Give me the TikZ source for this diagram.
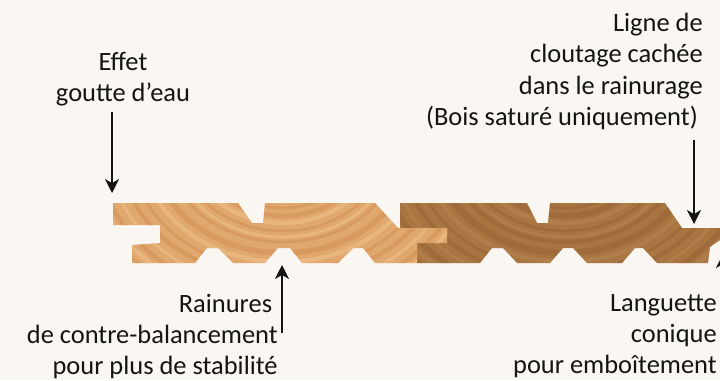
\documentclass[tikz,border=0pt]{standalone}
\usepackage{fontspec}
\setmainfont{Carlito}
\usetikzlibrary{arrows.meta}
\definecolor{paper}{HTML}{FAF6F2}
\definecolor{inkblack}{HTML}{141414}
\definecolor{pinebase}{HTML}{E0A86E}
\definecolor{pinelight}{HTML}{EFC08A}
\definecolor{pinedark}{HTML}{CB8448}
\definecolor{stainbase}{HTML}{A97642}
\definecolor{stainlight}{HTML}{B98B58}
\definecolor{staindark}{HTML}{8F5A2E}
\newcommand{\leftprofile}{(113,203) -- (238,203) -- (252,223) -- (263,223) -- (265,203) -- (375,203) -- (398,228) -- (447,228) -- (447,243) -- (417,243) -- (417,263) -- (375,263) -- (363,248) -- (353,248) -- (338,263) -- (302,263) -- (290,248) -- (278,248) -- (265,263) -- (233,263) -- (218,248) -- (207,248) -- (195,263) -- (132,263) -- (132,245) -- (160,243) -- (160,225) -- (113,225) -- cycle}
\newcommand{\rightprofile}{(400,203) -- (527,203) -- (537,223) -- (548,223) -- (550,203) -- (665,203) -- (682,228) -- (720,228) -- (720,240) -- (710,247) -- (708,263) -- (657,263) -- (643,248) -- (635,248) -- (622,263) -- (587,263) -- (573,248) -- (563,248) -- (550,263) -- (517,263) -- (503,248) -- (492,248) -- (480,263) -- (417,263) -- (400,240) -- cycle}

\begin{document}
\begin{tikzpicture}[
    x=0.025cm, y=-0.025cm,
    every node/.style={font=\fontsize{18.8}{22.2}\selectfont, text=inkblack, inner sep=0pt},
    callout/.style={-{Stealth[length=10pt, width=10pt, inset=3pt]}, inkblack, line width=0.8pt},
]
\path[use as bounding box, clip] (0,0) rectangle (720,380);
\fill[paper] (0,0) rectangle (720,380);

% Stained board
\fill[stainbase] \rightprofile;
\begin{scope}
    \clip \rightprofile;
    \foreach \r/\w in {46/3,58/2,66/4,81/2,92/3,103/5,121/2,130/3,148/4,162/2,176/3,188/2}
        \draw[staindark, line width=\w pt, opacity=0.38] (565,150) ellipse[x radius=1.25*\r, y radius=\r];
    \foreach \r/\w in {52/2,73/3,87/2,112/3,139/2,155/3,169/2}
        \draw[stainlight, line width=\w pt, opacity=0.4] (565,150) ellipse[x radius=1.25*\r, y radius=\r];
\end{scope}

% Natural board
\fill[pinebase] \leftprofile;
\begin{scope}
    \clip \leftprofile;
    \foreach \r/\w in {46/2,58/2,66/3,81/2,92/2,103/4,121/2,130/3,148/3,162/2,176/3,188/2}
        \draw[pinedark, line width=\w pt, opacity=0.38] (283,150) ellipse[x radius=1.25*\r, y radius=\r];
    \foreach \r/\w in {52/2,73/3,87/2,112/3,139/2,155/3,169/2}
        \draw[pinelight, line width=\w pt, opacity=0.6] (283,150) ellipse[x radius=1.25*\r, y radius=\r];
\end{scope}

% Labels
\node[align=center, anchor=north] (effet) at (123,52) {Effet\\goutte d’eau};
\node[align=right, anchor=north east] (ligne) at (703,13) {Ligne de\\cloutage cachée\\dans le rainurage\\(Bois saturé uniquement)\hspace*{3.5pt}};
\node[align=right, anchor=north east] (rainures) at (278,294) {Rainures\hspace*{4pt}\\de contre-balancement\hspace*{4pt}\\pour plus de stabilité};
\node[align=right, anchor=north east] (languette) at (717,294) {Languette\\conique\\pour emboîtement};

% Arrow ends
\coordinate (drip) at (112,193);
\coordinate (nail) at (694,224);
\coordinate (grooveTip) at (282,265);
\coordinate (grooveEnd) at (282,333);
\coordinate (tongueTip) at (723,254);
\coordinate (tongueEnd) at (723,300);

% Arrows
\draw[callout] (drip |- 0,112) -- (drip);
\draw[callout] (nail |- 0,140) -- (nail);
\draw[callout] (grooveEnd) -- (grooveTip);
\draw[callout] (tongueEnd) -- (tongueTip);

\end{tikzpicture}
\end{document}
